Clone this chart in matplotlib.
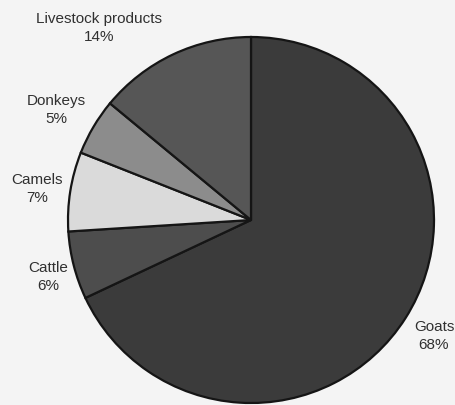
import matplotlib
matplotlib.use("Agg")
import matplotlib.pyplot as plt

# data (clockwise from 12 o'clock)
categories = ["Goats", "Cattle", "Camels", "Donkeys", "Livestock products"]
shares = [68, 6, 7, 5, 14]
colors = ["#3b3b3b", "#4d4d4d", "#dadada", "#8c8c8c", "#565656"]

# label anchor positions in pixels (x, y from top)
label_pos = {
    "Goats": (434, 336),
    "Cattle": (48, 277),
    "Camels": (37, 189),
    "Donkeys": (56, 110),
    "Livestock products": (99, 28),
}

plt.rcParams["font.family"] = ["Liberation Sans", "DejaVu Sans"]

fig = plt.figure(figsize=(4.56, 4.06), dpi=100, facecolor="#f4f4f4")
ax = fig.add_axes([0, 0, 1, 1])
ax.set_facecolor("#f4f4f4")

ax.pie(shares, colors=colors, startangle=90, counterclock=False,
       center=(251, 406 - 221), radius=183, frame=True,
       wedgeprops=dict(edgecolor="#151515", linewidth=1.6))
ax.set_xlim(0, 456)
ax.set_ylim(0, 406)
ax.set_aspect("equal")
ax.axis("off")

for name, val in zip(categories, shares):
    x, y = label_pos[name]
    ax.text(x, 406 - y, "%s\n%d%%" % (name, val), ha="center", va="center",
            fontsize=11, color="#303030", linespacing=1.3)

fig.savefig("out.png", dpi=100, facecolor=fig.get_facecolor())
